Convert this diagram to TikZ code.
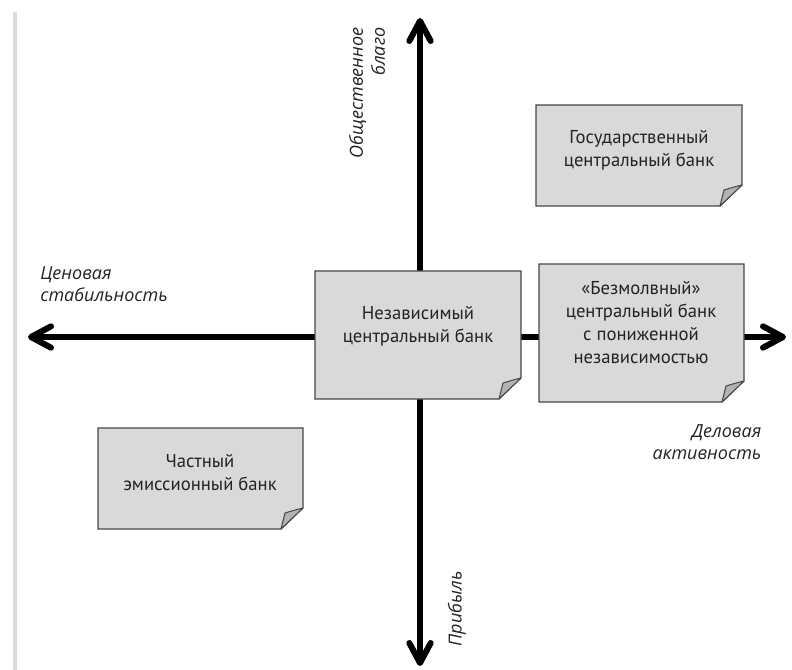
\documentclass[tikz,border=0pt]{standalone}
\usepackage{fontspec}
\setmainfont{PT Sans}
\newfontfamily\labelfont{Open Sans}
\usetikzlibrary{arrows.meta}

\definecolor{notefill}{RGB}{217,217,217}
\definecolor{noteline}{RGB}{70,70,70}
\definecolor{foldfill}{RGB}{178,178,178}
\definecolor{inktext}{RGB}{35,35,35}

\tikzset{every picture/.style={line width=0.75pt}}

% sticky note: name, left x, top y, right x, bottom y
\newcommand{\notebox}[5]{%
	\draw [notebox] (#2,#3) -- (#4,#3) -- (#4,#5-21) -- (#4-22,#5) -- (#2,#5) -- cycle ;
	\draw [notefold] (#4,#5-21) .. controls (#4-8,#5-19) .. (#4-18,#5-16) -- (#4-22,#5) -- cycle ;
	\coordinate (#1) at ({(#2+#4)/2},{(#3+#5)/2}) ;
}

\begin{document}
\begin{tikzpicture}[x=0.75pt,y=0.75pt,yscale=-1,xscale=1,
	axis/.style={line width=4.5pt, {Straight Barb[length=15pt,width=16pt,round]}-{Straight Barb[length=15pt,width=16pt,round]}},
	notebox/.style={draw=noteline, fill=notefill, line width=0.9pt},
	notefold/.style={draw=noteline, fill=foldfill, line width=0.75pt, line join=round},
	notetext/.style={align=center, text=inktext, font=\fontsize{14}{17.25}\selectfont},
	axislabel/.style={text=inktext, font=\labelfont\fontsize{13.5}{16.5}\selectfont\itshape}]
	\path [use as bounding box] (0,0) rectangle (792,670) ;

	%page edge shadow
	\draw [black!14, line width=2.5pt] (15,12) -- (15,670) ;

	%Axes
	\coordinate (top) at (420,18) ;
	\coordinate (bottom) at (420,666) ;
	\coordinate (left) at (28,337) ;
	\coordinate (right) at (786,337) ;
	\draw [axis] (bottom) -- (top) ;
	\draw [axis] (left) -- (right) ;

	%Notes
	\notebox{indep}{315}{271}{521}{399}
	\notebox{state}{536}{105}{742}{206}
	\notebox{silent}{539}{264}{744}{402}
	\notebox{private}{98}{428}{303}{529}

	% Text Node
	\node [notetext] (indeptext) at (418,326) {Независимый\\центральный банк} ;
	% Text Node
	\node [notetext] (statetext) at (639,150) {Государственный\\центральный банк} ;
	% Text Node
	\node [notetext] (silenttext) at (641,323) {«Безмолвный»\\центральный банк\\с пониженной\\независимостью} ;
	% Text Node
	\node [notetext] (privatetext) at (200,473) {Частный\\эмиссионный банк} ;

	% Axis labels
	\node [axislabel, align=right, rotate=90] (publabel) at (367,93) {Общественное\\благо} ;
	\node [axislabel, rotate=90] (profitlabel) at (457,609) {Прибыль} ;
	\node [axislabel, align=left] (pricelabel) at (104,284) {Ценовая\\стабильность} ;
	\node [axislabel, align=right] (busilabel) at (707,442) {Деловая\\активность} ;
\end{tikzpicture}
\end{document}
